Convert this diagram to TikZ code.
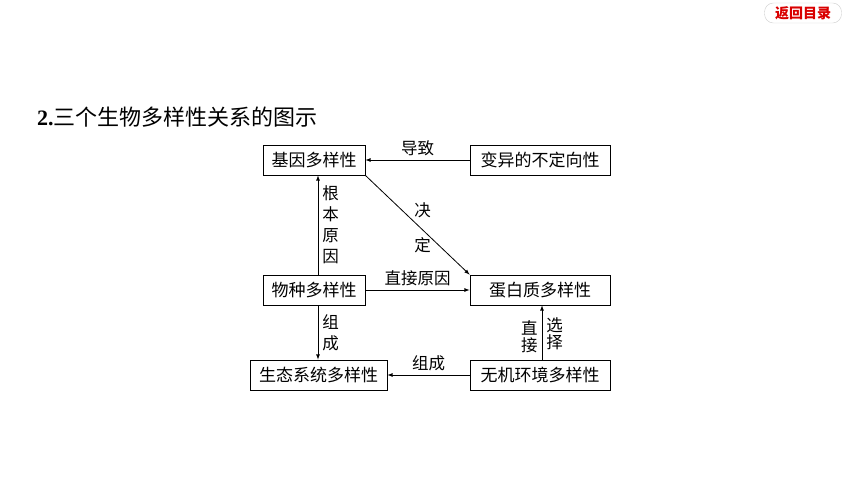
\documentclass[tikz,border=0pt]{standalone}
\usepackage{fontspec}
\newfontfamily\cjk{Noto Sans CJK SC}
\newfontfamily\romfont{Liberation Serif}
\usetikzlibrary{arrows,shapes}

\begin{document}
\begin{tikzpicture}
[x=1pt,y=-1pt,>=latex]
\tikzset{
	box/.style = {draw, line width=0.8pt, minimum height=30pt, inner sep=0pt, font=\cjk\fontsize{17}{17}\selectfont},
	lab/.style = {inner sep=4pt, align=center, font=\cjk\fontsize{16.5}{21}\selectfont},
	link/.style = {->, line width=0.8pt}
}
\useasboundingbox (0,0) rectangle (860,484);

\node(back) [draw=black!20, rounded corners=9pt, minimum width=77pt, minimum height=20pt, text=red!85!black, font=\cjk\bfseries\fontsize{14}{14}\selectfont] at (803,13) {返回目录};
\node(title) [anchor=west, inner sep=0pt, font=\fontsize{22}{22}\selectfont] at (37,117) {{\romfont\bfseries 2.}\cjk 三个生物多样性关系的图示};

% boxes
\node(gene) [box, minimum width=102pt] at (314,160) {基因多样性};
\node(var) [box, minimum width=140pt] at (540,160) {变异的不定向性};
\node(spec) [box, minimum width=102pt] at (314,290) {物种多样性};
\node(prot) [box, minimum width=140pt] at (540,290) {蛋白质多样性};
\node(eco) [box, minimum width=137pt] at (318.5,375) {生态系统多样性};
\node(env) [box, minimum width=140pt] at (540,375) {无机环境多样性};

% arrows
\draw [link] (var) -- (gene) node [midway, above, lab]{导致};
\draw [link] (gene.south east) -- (prot.north west) node [midway, xshift=5pt, yshift=-3pt, lab]{决\\[14pt]定};
\draw [link] ([xshift=4pt]spec.north) -- ([xshift=4pt]gene.south) node [midway, right, lab]{根\\本\\原\\因};
\draw [link] ([xshift=4pt]spec.south) -- ([xshift=4pt]spec.south |- eco.north) node [midway, right, lab]{组\\成};
\draw [link] (spec) -- (prot) node [midway, above, lab]{直接原因};
\draw [link] ([xshift=2pt]env.north) -- ([xshift=2pt]prot.south) node [midway, left, yshift=-4pt, lab, font=\cjk\fontsize{16.5}{17}\selectfont]{直\\接} node [midway, right, yshift=-1pt, lab, font=\cjk\fontsize{16.5}{17}\selectfont]{选\\择};
\draw [link] (env) -- (eco) node [midway, above, lab]{组成};
\end{tikzpicture}
\end{document}
